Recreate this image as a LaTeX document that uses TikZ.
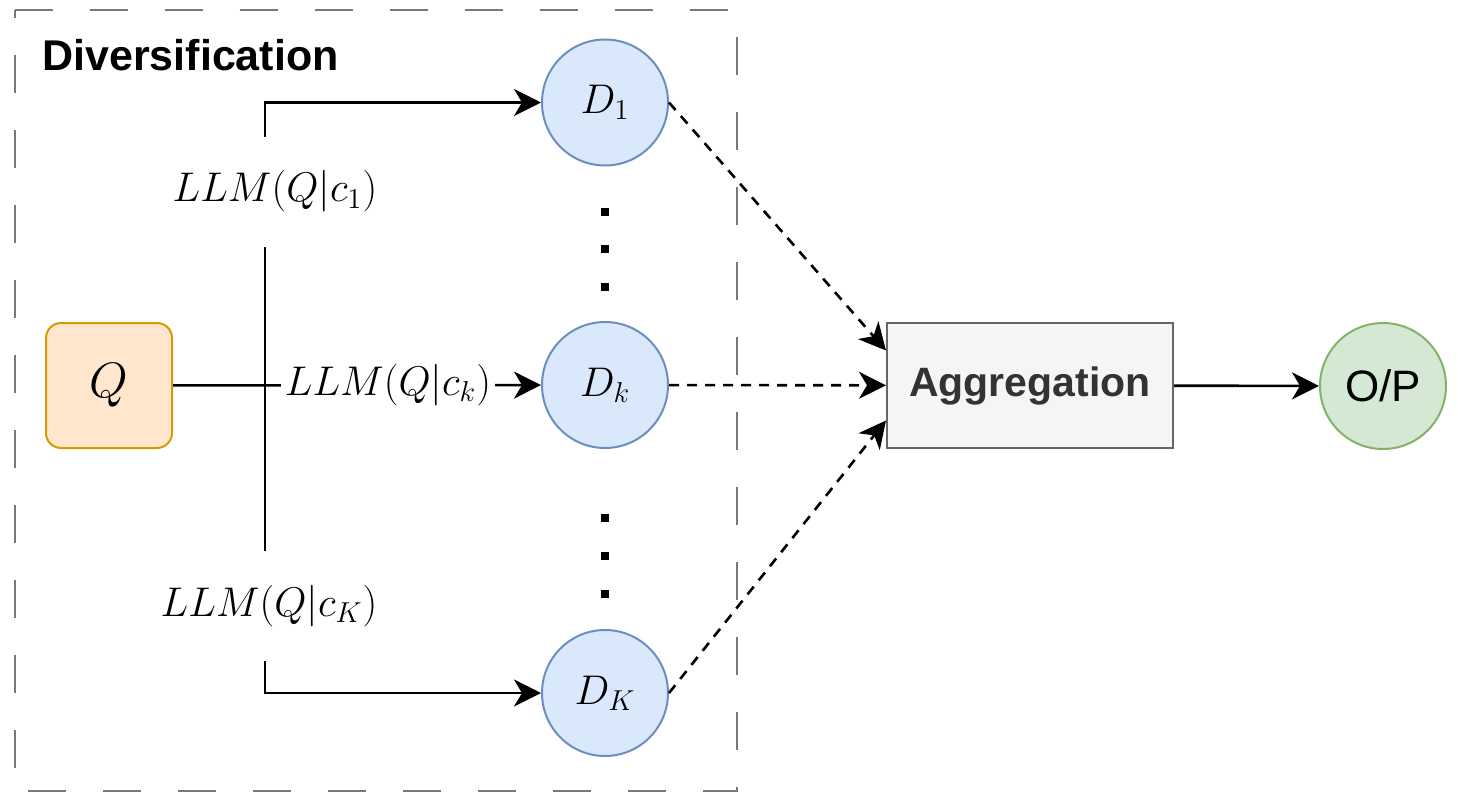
\documentclass[tikz,border=0pt]{standalone}
\usepackage{fontspec}
\setsansfont{Liberation Sans}
\usetikzlibrary{arrows.meta}
\definecolor{dfill}{HTML}{DAE8FC}
\definecolor{dline}{HTML}{6C8EBF}
\definecolor{qfill}{HTML}{FFE6CC}
\definecolor{qline}{HTML}{D79B00}
\definecolor{opfill}{HTML}{D5E8D4}
\definecolor{opline}{HTML}{82B366}
\definecolor{agfill}{HTML}{F5F5F5}
\definecolor{agline}{HTML}{666666}
\definecolor{agtext}{HTML}{333333}
\definecolor{boxline}{HTML}{787878}
\tikzset{
  dnode/.style={circle, draw=dline, fill=dfill, line width=1pt, minimum size=63pt, inner sep=0pt, font=\fontsize{22}{26}\selectfont},
  link/.style={line width=1.3pt, -{Stealth[length=13.5pt,width=13.5pt,inset=4pt]}},
  dlink/.style={link, dash pattern=on 5pt off 4pt},
  lbl/.style={fill=white, inner xsep=2pt, minimum height=55pt, font=\fontsize{20.5}{24}\selectfont},
}
\begin{document}
\begin{tikzpicture}[x=0.5pt,y=-0.5pt]
\pgfmathsetmacro{\xd}{605};
\pgfmathsetmacro{\xf}{265};
\useasboundingbox (0,0) rectangle (1458,793);
% diversification group
\draw[boxline, line width=1pt, dash pattern=on 19pt off 18.5pt] (14.5,9.5)--(737,9.5)--(737,791)--(14.5,791)--cycle;
\node[anchor=base west, inner sep=0pt, font=\sffamily\bfseries\fontsize{21.5}{26}\selectfont] (divtitle) at (42,70) {Diversification};
\node[rounded corners=7.5pt, draw=qline, fill=qfill, line width=1pt, minimum width=63pt, minimum height=62.5pt, font=\fontsize{28}{32}\selectfont] (Q) at (109,385.5) {$Q$};
\node[dnode] (D1) at (\xd,102.5) {$D_1$};
\node[dnode] (Dk) at (\xd,385) {$D_k$};
\node[dnode] (DK) at (\xd,693) {$D_K$};
\coordinate (fork) at (\xf,385);
\foreach \y in {212,249,287,518,556,594}
  \fill (\xd-4,\y-4) rectangle (\xd+4,\y+4);
% aggregation and output
\node[draw=agline, fill=agfill, line width=1pt, minimum width=143pt, minimum height=62.5pt, text=agtext, font=\sffamily\bfseries\fontsize{20.5}{24}\selectfont] (agg) at (1030,385.5) {Aggregation};
\node[circle, draw=opline, fill=opfill, line width=1pt, minimum size=63pt, inner sep=0pt, font=\sffamily\fontsize{22}{26}\selectfont] (op) at (1383,386) {O/P};
% edges
\draw[link] (Q) -- (Dk);
\draw[link] (fork) |- (D1);
\draw[link] (fork) |- (DK);
\node[lbl] (l1) at (275,191.5) {$LLM(Q|c_1)$};
\node[lbl] (lk) at (388,385) {$LLM(Q|c_k)$};
\node[lbl] (lK) at (269,606) {$LLM(Q|c_K)$};
\draw[dlink] (D1.east) -- ([yshift=17.5pt]agg.west);
\draw[dlink] (Dk) -- (agg);
\draw[dlink] (DK.east) -- ([yshift=-17.5pt]agg.west);
\draw[link] (agg) -- (op);
\end{tikzpicture}
\end{document}
